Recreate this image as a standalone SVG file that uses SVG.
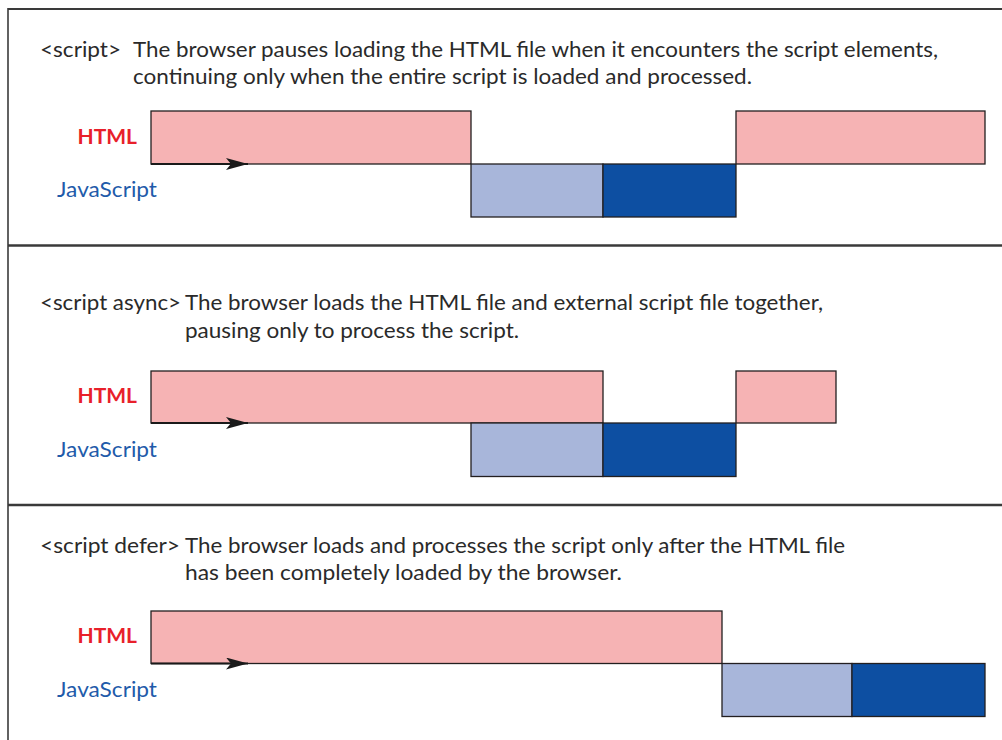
<svg xmlns="http://www.w3.org/2000/svg" width="1002" height="740" viewBox="0 0 1002 740">
<defs>
<style>
.desc{font-family:Lato,"Open Sans","Liberation Sans",sans-serif;font-size:21px;fill:#2a2a2a}
.tag{font-family:Lato,"Open Sans","Liberation Sans",sans-serif;font-size:21px;fill:#2a2a2a}
.html{font-family:Lato,"Open Sans","Liberation Sans",sans-serif;font-size:21px;font-weight:bold;fill:#E8202A;text-anchor:end}
.js{font-family:Lato,"Open Sans","Liberation Sans",sans-serif;font-size:21px;fill:#1F5BAA}
.pink{fill:#F6B3B4;stroke:#231F20;stroke-width:1.3}
.light{fill:#A8B6DA;stroke:#231F20;stroke-width:1.3}
.dark{fill:#0D4FA2;stroke:#231F20;stroke-width:1.3}
.frame{stroke:#3a3a3a;fill:none}
.conn{stroke:#1a1a1a;stroke-width:2.2;fill:none;marker-end:url(#ah)}
</style>
<marker id="ah" markerUnits="userSpaceOnUse" markerWidth="24" markerHeight="14" refX="22" refY="6" orient="auto">
<path d="M0,0 L22,6 L0,12 L5,6 z" fill="#1a1a1a"/>
</marker>
</defs>
<rect width="1002" height="740" fill="#ffffff"/>
<g id="frame">
<line class="frame" x1="8" y1="9" x2="1002" y2="9" stroke-width="2"/>
<line class="frame" x1="8" y1="8" x2="8" y2="740" stroke-width="1.6"/>
<line class="frame" x1="8" y1="245.5" x2="1002" y2="245.5" stroke-width="2.4"/>
<line class="frame" x1="8" y1="505" x2="1002" y2="505" stroke-width="2.4"/>
</g>
<g id="section-script">
<text class="tag" x="40" y="57" textLength="81" lengthAdjust="spacingAndGlyphs">&lt;script&gt;</text>
<text class="desc" x="133" y="57" textLength="805" lengthAdjust="spacingAndGlyphs">The browser pauses loading the HTML file when it encounters the script elements,</text>
<text class="desc" x="133" y="84" textLength="619" lengthAdjust="spacingAndGlyphs">continuing only when the entire script is loaded and processed.</text>
<text class="html" x="137" y="144">HTML</text>
<text class="js" x="57" y="197" textLength="100" lengthAdjust="spacingAndGlyphs">JavaScript</text>
<g id="s1-html1"><rect class="pink" x="151" y="111" width="320" height="53"/></g>
<g id="s1-js-load"><rect class="light" x="471" y="164" width="132" height="53"/></g>
<g id="s1-js-exec"><rect class="dark" x="603" y="164" width="133" height="53"/></g>
<g id="s1-html2"><rect class="pink" x="736" y="111" width="249" height="53"/></g>
</g>
<g id="section-async">
<text class="tag" x="40" y="310" textLength="141" lengthAdjust="spacingAndGlyphs">&lt;script async&gt;</text>
<text class="desc" x="185" y="310" textLength="638" lengthAdjust="spacingAndGlyphs">The browser loads the HTML file and external script file together,</text>
<text class="desc" x="185" y="338" textLength="334" lengthAdjust="spacingAndGlyphs">pausing only to process the script.</text>
<text class="html" x="137" y="403">HTML</text>
<text class="js" x="57" y="457" textLength="100" lengthAdjust="spacingAndGlyphs">JavaScript</text>
<g id="s2-html1"><rect class="pink" x="151" y="371" width="452" height="52"/></g>
<g id="s2-js-load"><rect class="light" x="471" y="423" width="132" height="53.5"/></g>
<g id="s2-js-exec"><rect class="dark" x="603" y="423" width="133" height="53.5"/></g>
<g id="s2-html2"><rect class="pink" x="736" y="371" width="100" height="52"/></g>
</g>
<g id="section-defer">
<text class="tag" x="40" y="553" textLength="140" lengthAdjust="spacingAndGlyphs">&lt;script defer&gt;</text>
<text class="desc" x="185" y="553" textLength="660" lengthAdjust="spacingAndGlyphs">The browser loads and processes the script only after the HTML file</text>
<text class="desc" x="185" y="580" textLength="437" lengthAdjust="spacingAndGlyphs">has been completely loaded by the browser.</text>
<text class="html" x="137" y="643">HTML</text>
<text class="js" x="57" y="697" textLength="100" lengthAdjust="spacingAndGlyphs">JavaScript</text>
<g id="s3-html1"><rect class="pink" x="151" y="611" width="571" height="52.5"/></g>
<g id="s3-js-load"><rect class="light" x="722" y="663.5" width="130" height="53"/></g>
<g id="s3-js-exec"><rect class="dark" x="852" y="663.5" width="133" height="53"/></g>
</g>
<g id="connectors">
<line class="conn" x1="151" y1="164" x2="248" y2="164"/>
<line class="conn" x1="151" y1="423" x2="248" y2="423"/>
<line class="conn" x1="151" y1="663.5" x2="248" y2="663.5"/>
</g>
</svg>
